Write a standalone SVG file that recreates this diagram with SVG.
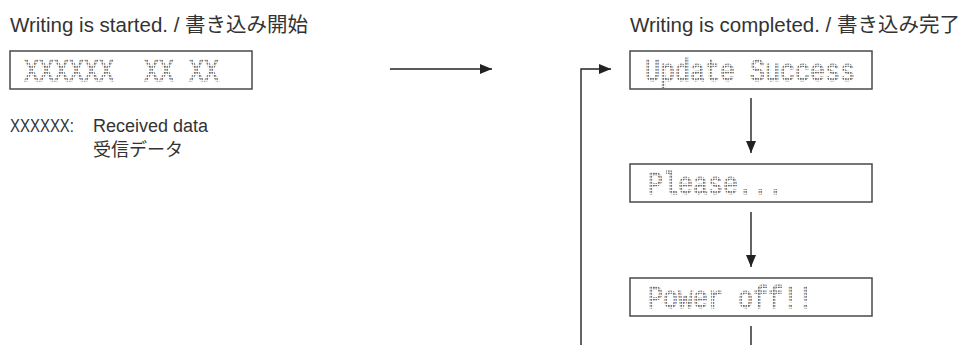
<svg xmlns="http://www.w3.org/2000/svg" width="976" height="345" viewBox="0 0 976 345">
<defs>
<style>
.title{font-family:"Liberation Sans","Noto Sans CJK JP",sans-serif;font-size:20.5px;fill:#333}
.note{font-family:"Liberation Sans","Noto Sans CJK JP",sans-serif;font-size:18px;fill:#333}
.lcd{fill:#fff;stroke:#4a4a4a;stroke-width:1.5}
.dm{font-family:"Liberation Mono",monospace;font-size:25px;fill:url(#dots);stroke:url(#dots);stroke-width:0.8}
.conn{fill:none;stroke:#222;stroke-width:1.4}
</style>
<pattern id="dots" patternUnits="userSpaceOnUse" width="2.5" height="2.5">
<rect x="0" y="0" width="1.6" height="1.6" fill="#6a6a6a"/>
</pattern>
<marker id="ah" markerUnits="userSpaceOnUse" viewBox="0 0 12 10" refX="12" refY="5" markerWidth="12" markerHeight="10" orient="auto">
<path d="M0,0 L12,5 L0,10 Z" fill="#222"/>
</marker>
</defs>
<rect width="976" height="345" fill="#fff"/>

<g id="start">
<text class="title" x="10" y="32">Writing is started. / 書き込み開始</text>
<rect class="lcd" x="10" y="51" width="242" height="38"/>
<text class="dm" transform="translate(24,81) scale(1,1.22)" xml:space="preserve">XXXXXX  XX XX</text>
<text class="note" x="10" y="132" textLength="64" lengthAdjust="spacingAndGlyphs">XXXXXX:</text>
<text class="note" x="93" y="132">Received data</text>
<text class="note" x="93" y="156">受信データ</text>
</g>

<g id="completed">
<text class="title" x="630" y="32">Writing is completed. / 書き込み完了</text>
</g>

<g id="update-success">
<rect class="lcd" x="630" y="51" width="242" height="38"/>
<text class="dm" transform="translate(645,81) scale(1,1.22)">Update Success</text>
</g>

<g id="please">
<rect class="lcd" x="630" y="164" width="242" height="38"/>
<text class="dm" transform="translate(648,194) scale(1,1.22)">Please...</text>
</g>

<g id="power-off">
<rect class="lcd" x="630" y="278" width="242" height="38"/>
<text class="dm" transform="translate(648,308) scale(1,1.22)">Power off!!</text>
</g>

<g id="connectors">
<path class="conn" d="M390,69 H492" marker-end="url(#ah)"/>
<path class="conn" d="M581,345 V69 H611" marker-end="url(#ah)"/>
<path class="conn" d="M751,98 V153" marker-end="url(#ah)"/>
<path class="conn" d="M751,212 V267" marker-end="url(#ah)"/>
<path class="conn" d="M751,326 V345"/>
</g>
</svg>
